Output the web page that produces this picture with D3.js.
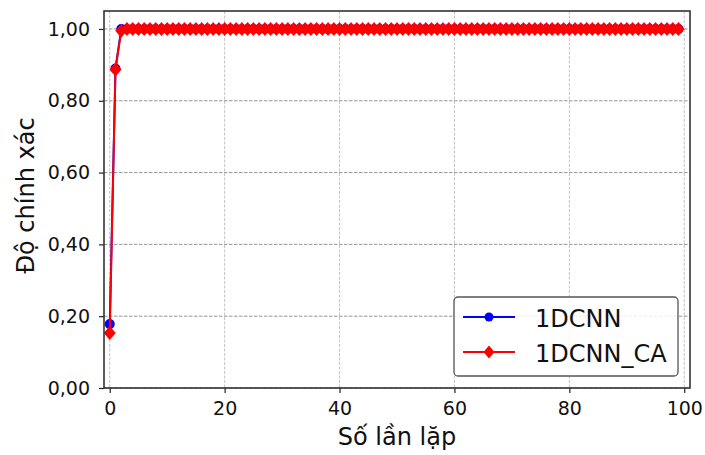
<!DOCTYPE html>
<html>
<head>
<meta charset="utf-8">
<title>Do chinh xac</title>
<script src="https://cdn.jsdelivr.net/npm/d3@7"></script>
<style>
  body { margin: 0; background: #fff; }
  text { font-family: "DejaVu Sans", sans-serif; }
</style>
</head>
<body>
<script>
// data
var epochs = d3.range(0, 100);
var cnn = [0.178, 0.89].concat(d3.range(2, 100).map(function() { return 1.0; }));
var cnnCA = [0.153, 0.887, 0.995].concat(d3.range(3, 100).map(function() { return 1.0; }));
var xTicks = [0, 20, 40, 60, 80, 100];
var yTicks = [0, 0.2, 0.4, 0.6, 0.8, 1.0];
var seriesNames = ["1DCNN", "1DCNN_CA"];

var margin = { top: 11, right: 15, bottom: 67, left: 104 },
    width = 705 - margin.left - margin.right,
    height = 455 - margin.top - margin.bottom;

var svg = d3.select("body").append("svg")
    .attr("width", 705).attr("height", 455)
  .append("g")
    .attr("transform", "translate(" + margin.left + "," + margin.top + ")");

var x = d3.scaleLinear().domain([-1, 101]).range([0, width]);
var y = d3.scaleLinear().domain([0, 1.05]).range([height, 0]);

// grid
svg.append("g").selectAll("line").data(xTicks).enter().append("line")
    .attr("x1", function(d) { return x(d); }).attr("x2", function(d) { return x(d); })
    .attr("y1", 0).attr("y2", height)
    .attr("stroke", "#bbbbbb").attr("stroke-width", 0.9).attr("stroke-dasharray", "3,1.5");
svg.append("g").selectAll("line").data(yTicks).enter().append("line")
    .attr("x1", 0).attr("x2", width)
    .attr("y1", function(d) { return y(d); }).attr("y2", function(d) { return y(d); })
    .attr("stroke", "#8a8a8a").attr("stroke-width", 0.9).attr("stroke-dasharray", "3.5,1.5");

var fmt = function(d) { return d3.format(".2f")(d).replace(".", ","); };

var xAxis = svg.append("g")
    .attr("transform", "translate(0," + height + ")")
    .call(d3.axisBottom(x).tickValues(xTicks).tickSize(5).tickPadding(9));
var yAxis = svg.append("g")
    .call(d3.axisLeft(y).tickValues(yTicks).tickFormat(fmt).tickSize(5).tickPadding(9));
[xAxis, yAxis].forEach(function(a) {
  a.select(".domain").remove();
  a.selectAll("line").attr("stroke", "#222").attr("stroke-width", 1.2);
  a.selectAll("text").style("font-size", "19px").attr("fill", "#111");
});

// lines
var line = d3.line()
    .x(function(d, i) { return x(epochs[i]); })
    .y(function(d) { return y(d); });

svg.append("path").datum(cnn)
    .attr("fill", "none").attr("stroke", "blue").attr("stroke-width", 2).attr("d", line);
svg.append("g").selectAll("circle").data(cnn).enter().append("circle")
    .attr("cx", function(d, i) { return x(epochs[i]); })
    .attr("cy", function(d) { return y(d); })
    .attr("r", 5).attr("fill", "blue");

// tall diamond marker
var diamond = "M0,-7L6,0L0,7L-6,0Z";
svg.append("path").datum(cnnCA)
    .attr("fill", "none").attr("stroke", "red").attr("stroke-width", 2).attr("d", line);
svg.append("g").selectAll("path").data(cnnCA).enter().append("path")
    .attr("d", diamond)
    .attr("transform", function(d, i) { return "translate(" + x(epochs[i]) + "," + y(d) + ")"; })
    .attr("fill", "red");

// frame
svg.append("rect").attr("width", width).attr("height", height)
    .attr("fill", "none").attr("stroke", "#333").attr("stroke-width", 1.6);

// axis titles
svg.append("text")
    .attr("x", x(50)).attr("y", height + 57)
    .attr("text-anchor", "middle").style("font-size", "24px").attr("fill", "#111")
    .text("Số lần lặp");
svg.append("text")
    .attr("transform", "translate(-70," + (height / 2 - 4) + ") rotate(-90)")
    .attr("text-anchor", "middle").style("font-size", "24px").attr("fill", "#111")
    .text("Độ chính xác");

// legend
var lg = svg.append("g").attr("transform", "translate(" + (454 - margin.left) + "," + (297 - margin.top) + ")");
lg.append("rect").attr("width", 224).attr("height", 79).attr("rx", 4)
    .attr("fill", "white").attr("fill-opacity", 0.85)
    .attr("stroke", "#555").attr("stroke-width", 1.3);
var colors = ["blue", "red"];
seriesNames.forEach(function(name, i) {
  var yy = 20 + i * 35;
  lg.append("line").attr("x1", 9).attr("x2", 61).attr("y1", yy).attr("y2", yy)
      .attr("stroke", colors[i]).attr("stroke-width", 2);
  if (i === 0) {
    lg.append("circle").attr("cx", 35).attr("cy", yy).attr("r", 4.5).attr("fill", "blue");
  } else {
    lg.append("path").attr("d", "M0,-6.5L5.5,0L0,6.5L-5.5,0Z").attr("transform", "translate(35," + yy + ")").attr("fill", "red");
  }
  lg.append("text").attr("x", 81).attr("y", yy + 10)
      .style("font-size", "24px").attr("fill", "#111").text(name);
});
</script>
</body>
</html>
